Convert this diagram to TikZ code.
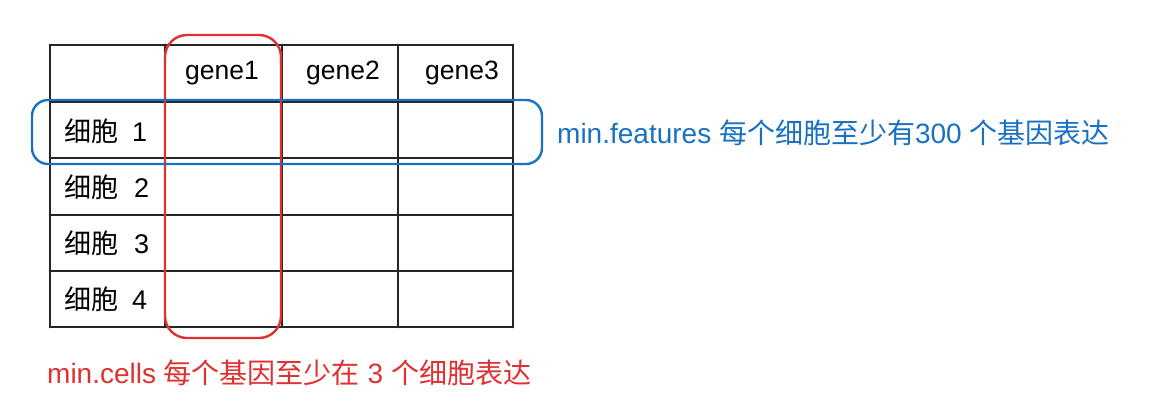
\documentclass[tikz,border=0pt]{standalone}
\usepackage{fontspec}
\setmainfont{Liberation Sans}
\newfontfamily\cjk{Noto Sans CJK SC}
\usetikzlibrary{positioning}
\definecolor{selred}{HTML}{E03131}
\definecolor{selblue}{HTML}{1971C2}

\begin{document}
\begin{tikzpicture}[x=1pt, y=-1pt,
                    grid/.style={line width=2.9pt, black!85, line cap=round},
                    head/.style={font=\fontsize{26.5}{28}\selectfont, inner sep=0pt},
                    rowlab/.style={font=\fontsize{27}{28}\selectfont, inner sep=0pt, anchor=west},
                    selbox/.style={line width=2.4pt, rounded corners=22pt},
                    note/.style={font=\fontsize{28}{30}\selectfont, inner sep=0pt, anchor=west}]

    \useasboundingbox (0,0) rectangle (1162,416);

    % table corners
    \coordinate (tl) at (50,45);
    \coordinate (br) at (513,327);

    % grid
    \foreach \y in {45,102,158,215,271,327}
        \draw[grid] (50,\y) -- (513,\y);
    \foreach \x in {50,165,282,398,513}
        \draw[grid] (\x,45) -- (\x,327);

    % header
    \node[head] (g1) at (222,73) {gene1};
    \node[head] (g2) at (343,73) {gene2};
    \node[head] (g3) at (462,73) {gene3};

    % row labels
    \node[rowlab] (c1) at (64,131) {{\cjk 细胞}\hspace{14pt}1};
    \node[rowlab] (c2) at (64,187) {{\cjk 细胞}\hspace{16pt}2};
    \node[rowlab] (c3) at (64,243) {{\cjk 细胞}\hspace{16pt}3};
    \node[rowlab] (c4) at (64,299) {{\cjk 细胞}\hspace{14pt}4};

    % selections
    \coordinate (colA) at (165,35);
    \coordinate (colB) at (281,338);
    \coordinate (rowA) at (32,100);
    \coordinate (rowB) at (542,164);
    \draw[selbox, selred] (colA) rectangle (colB);
    \draw[selbox, selblue, rounded corners=16pt] (rowA) rectangle (rowB);

    % notes
    \node[note, text=selblue] (feat) at (557,133) {min.features {\cjk 每个细胞至少有}300 {\cjk 个基因表达}};
    \node[note, text=selred] (cells) at (47,373) {min.cells {\cjk 每个基因至少在} 3 {\cjk 个细胞表达}};
\end{tikzpicture}
\end{document}
